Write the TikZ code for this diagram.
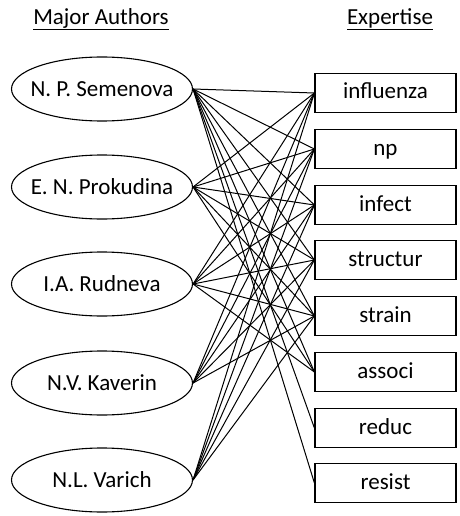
\documentclass[tikz,border=0pt]{standalone}
\usepackage{fontspec}
\setmainfont{Carlito}
\usetikzlibrary{shapes.geometric,positioning}

\begin{document}
\begin{tikzpicture}[x=1pt, y=-1pt,
    every node/.style={font=\fontsize{23}{27}\selectfont},
    author/.style={draw, ellipse, line width=1.1pt, minimum width=181pt, minimum height=64pt, inner sep=0pt},
    topic/.style={draw, rectangle, line width=1.2pt, minimum width=141pt, minimum height=39pt, inner sep=0pt, text height=16pt, text depth=4pt},
    link/.style={line width=1pt}]

\useasboundingbox (0,0) rectangle (459,516);

\node (hauth) at (101,19) {\underline{Major Authors}};
\node (hexp) at (390,19) {\underline{Expertise}};

\foreach \name/\y [count=\i] in {N. P. Semenova/89, E. N. Prokudina/187, I.A. Rudneva/284, N.V. Kaverin/383, N.L. Varich/480}
    \node[author] (a\i) at (102,\y) {\makebox[0pt]{\name}};

\foreach \word/\y [count=\j] in {influenza/93, np/149, infect/205, structur/260, strain/316, associ/372, reduc/428, resist/483}
    \node[topic] (e\j) at (385.5,\y) {\word};

% author -> expertise
\foreach \i/\list in {1/{1,2,3,4,5,6,7,8}, 2/{1,2,3,4,5,6}, 3/{1,2,3,4,5,6}, 4/{1,2,3,4,5}, 5/{1,2,3,4,5}}
    \foreach \j in \list
        \draw[link] (a\i.east) -- (e\j.west);

\end{tikzpicture}
\end{document}
